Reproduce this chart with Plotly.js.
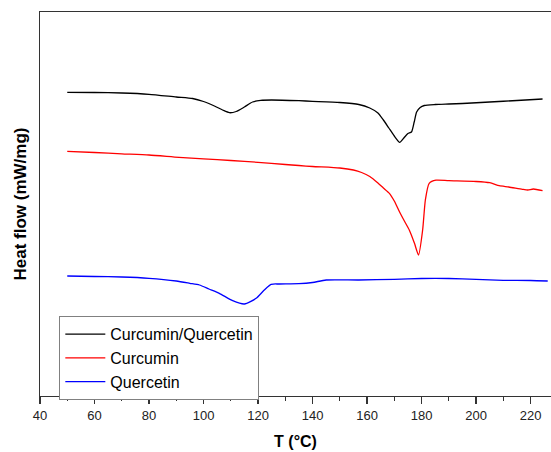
<!DOCTYPE html>
<html>
<head>
<meta charset="utf-8">
<script src="https://cdn.plot.ly/plotly-3.0.1.min.js"></script>
<style>html,body{margin:0;padding:0;background:#fff;}#chart{width:551px;height:452px;}</style>
</head>
<body>
<div id="chart"></div>
<script>
// Temperature (°C) and heat flow (mW/mg, arbitrary offset)
const tMix = [50, 60, 70, 80, 90, 96, 100, 104, 107, 109.5, 112, 115, 118, 121, 125, 135, 140, 150, 157, 161, 164, 166, 168, 170, 172, 173.5, 175, 176.3, 177.3, 178.2, 179.5, 181, 185, 190, 195, 205, 215, 224.4];
const hMix = [-0.923, -0.925, -0.930, -0.943, -0.970, -0.985, -1.015, -1.060, -1.100, -1.127, -1.115, -1.070, -1.020, -1.003, -1.000, -1.007, -1.013, -1.025, -1.045, -1.080, -1.130, -1.200, -1.280, -1.360, -1.423, -1.380, -1.335, -1.320, -1.220, -1.120, -1.075, -1.055, -1.045, -1.040, -1.035, -1.020, -1.005, -0.990];

const tCur = [50, 60, 70, 80, 91, 100, 110, 120, 130, 135, 140, 150, 155, 158, 161, 164, 166, 168.2, 170, 171.9, 173.7, 175.5, 177.4, 178.9, 180.4, 181.4, 182.8, 185.3, 190, 200, 205, 208.5, 212, 217, 219, 221, 224.4];
const hCur = [-1.513, -1.525, -1.538, -1.550, -1.573, -1.588, -1.605, -1.623, -1.645, -1.655, -1.665, -1.680, -1.700, -1.725, -1.765, -1.830, -1.880, -1.933, -2.010, -2.117, -2.210, -2.300, -2.433, -2.550, -2.300, -2.000, -1.833, -1.802, -1.807, -1.815, -1.827, -1.857, -1.870, -1.893, -1.900, -1.890, -1.907];

const tQue = [50, 60, 70, 80, 90, 95, 98.5, 102, 105.8, 110.7, 115, 119.3, 122.3, 124.8, 127.8, 135, 140, 145, 157, 170, 180, 190, 200, 210, 220, 226.3];
const hQue = [-2.760, -2.765, -2.770, -2.783, -2.810, -2.833, -2.850, -2.890, -2.933, -3.007, -3.040, -2.983, -2.900, -2.843, -2.840, -2.837, -2.825, -2.800, -2.800, -2.793, -2.785, -2.785, -2.793, -2.803, -2.805, -2.810];

const names = ['Curcumin/Quercetin', 'Curcumin', 'Quercetin'];
const colors = ['#000000', '#ff0000', '#0000ff'];

const traces = [[tMix, hMix], [tCur, hCur], [tQue, hQue]].map((d, i) => ({
  x: d[0], y: d[1], name: names[i], type: 'scatter', mode: 'lines',
  line: {color: colors[i], width: 1.3, shape: 'spline', smoothing: 0.6}
}));

const layout = {
  width: 551, height: 452,
  margin: {l: 40, r: 0, t: 12, b: 56},
  paper_bgcolor: '#ffffff', plot_bgcolor: '#ffffff',
  font: {family: 'Arial, Liberation Sans, sans-serif', color: '#000'},
  showlegend: true,
  legend: {
    x: 0.0378, y: 0.208, xanchor: 'left', yanchor: 'top',
    bordercolor: '#808080', borderwidth: 1, bgcolor: '#ffffff',
    font: {size: 16, family: 'Arial, Liberation Sans, sans-serif', color: '#000'},
    itemwidth: 40, tracegroupgap: 0
  },
  xaxis: {
    range: [40, 227.5], dtick: 20, tick0: 40,
    showgrid: false, zeroline: false,
    showline: true, linecolor: '#333', linewidth: 1.3, mirror: true,
    ticks: 'outside', ticklen: 7, tickwidth: 1.2, tickcolor: '#333',
    minor: {dtick: 10, ticks: 'outside', ticklen: 4, tickwidth: 1.2, tickcolor: '#333'},
    tickfont: {size: 13, color: '#222'},
    title: {text: '<b>T (°C)</b>', font: {size: 16, color: '#000'}, standoff: 14}
  },
  yaxis: {
    range: [-3.96, -0.12],
    showgrid: false, zeroline: false, showticklabels: false, ticks: '',
    showline: true, linecolor: '#333', linewidth: 1.3, mirror: false,
    title: {text: '<b>Heat flow (mW/mg)</b>', font: {size: 17, color: '#000'}, standoff: 7}
  }
};

Plotly.newPlot('chart', traces, layout, {displayModeBar: false, staticPlot: true});
</script>
</body>
</html>
